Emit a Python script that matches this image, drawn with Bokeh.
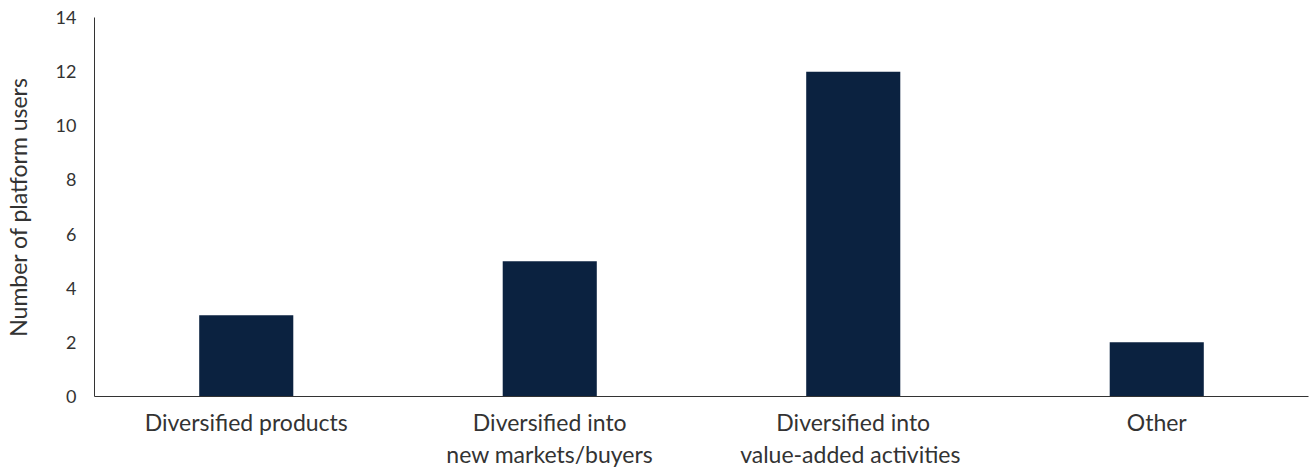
from bokeh.plotting import figure
from bokeh.models import ColumnDataSource, FactorRange, Range1d, FixedTicker
from bokeh.embed import file_html
from bokeh.resources import INLINE

categories = ["Diversified products", "Diversified into\nnew markets/buyers",
              "Diversified into\nvalue-added  activities", "Other"]
values = [3, 5, 12, 2]
y_ticks = [0, 2, 4, 6, 8, 10, 12, 14]
y_title = "Number of platform users"

FONT = "Lato"
TXT = "#333333"

src = ColumnDataSource(data=dict(cat=categories, val=values))

p = figure(x_range=FactorRange(*categories), y_range=Range1d(0, 14),
           width=1312, height=471, output_backend="svg", toolbar_location=None,
           min_border_left=93, min_border_right=4, min_border_top=17, min_border_bottom=0)
p.vbar(x="cat", top="val", width=0.31, source=src, fill_color="#0B2240", line_color=None)

p.outline_line_color = None
p.xgrid.grid_line_color = None
p.ygrid.grid_line_color = None
p.x_range.range_padding = 0
p.x_range.factor_padding = 0

ya = p.yaxis[0]
ya.ticker = FixedTicker(ticks=y_ticks)
ya.major_tick_line_color = None
ya.minor_tick_line_color = None
ya.major_tick_out = 0
ya.major_label_standoff = 18
ya.axis_line_color = "#333333"
ya.axis_line_width = 1
ya.major_label_text_font = FONT
ya.major_label_text_font_size = "18px"
ya.major_label_text_color = TXT
ya.axis_label = y_title
ya.axis_label_text_font = FONT
ya.axis_label_text_font_size = "23px"
ya.axis_label_text_font_style = "normal"
ya.axis_label_text_color = TXT
ya.axis_label_standoff = 21

xa = p.xaxis[0]
xa.major_tick_line_color = None
xa.minor_tick_line_color = None
xa.major_tick_out = 0
xa.axis_line_color = "#333333"
xa.major_label_standoff = 11
xa.major_label_text_font = FONT
xa.major_label_text_font_size = "23px"
xa.major_label_text_color = TXT
xa.major_label_text_line_height = 1.17

open("out.html", "w").write(file_html(p, INLINE))
